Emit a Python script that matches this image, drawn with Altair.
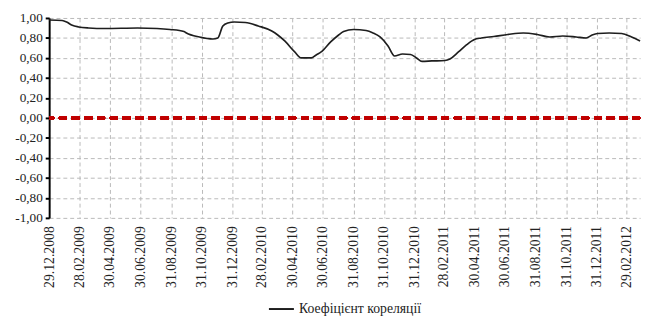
import altair as alt
import pandas as pd

dates = [
    "2008-12-29", "2009-01-24", "2009-02-02", "2009-02-12", "2009-02-26", "2009-03-18",
    "2009-04-20", "2009-06-24", "2009-08-02", "2009-08-28", "2009-09-25", "2009-09-30",
    "2009-10-26", "2009-11-22", "2009-12-02", "2009-12-12", "2009-12-22", "2010-01-04",
    "2010-01-26", "2010-02-21", "2010-03-20", "2010-04-01", "2010-04-15", "2010-05-05",
    "2010-05-18", "2010-06-07", "2010-06-17", "2010-06-27", "2010-07-16", "2010-08-01",
    "2010-08-11", "2010-08-31", "2010-09-25", "2010-10-09", "2010-10-23", "2010-11-08",
    "2010-11-21", "2010-12-07", "2010-12-23", "2011-01-04", "2011-01-15", "2011-02-04",
    "2011-03-02", "2011-03-12", "2011-03-29", "2011-04-14", "2011-04-30", "2011-05-14",
    "2011-06-08", "2011-07-06", "2011-08-06", "2011-09-03", "2011-09-28", "2011-10-24",
    "2011-11-20", "2011-12-10", "2011-12-22", "2012-01-02", "2012-01-25", "2012-02-19",
    "2012-03-10", "2012-03-27",
]
values = [
    0.98, 0.975, 0.96, 0.93, 0.91, 0.90,
    0.895, 0.90, 0.895, 0.885, 0.865, 0.85,
    0.81, 0.79, 0.80, 0.92, 0.95, 0.96,
    0.955, 0.92, 0.87, 0.83, 0.77, 0.66,
    0.60, 0.60, 0.63, 0.66, 0.76, 0.83,
    0.865, 0.885, 0.875, 0.85, 0.81, 0.72,
    0.62, 0.64, 0.635, 0.60, 0.565, 0.57,
    0.575, 0.59, 0.66, 0.73, 0.785, 0.80,
    0.815, 0.835, 0.85, 0.835, 0.81, 0.82,
    0.81, 0.80, 0.83, 0.845, 0.85, 0.845,
    0.81, 0.77,
]
series_name = "Коефіцієнт кореляції"
tick_dates = [
    (2008, 12, 29), (2009, 2, 28), (2009, 4, 30), (2009, 6, 30), (2009, 8, 31),
    (2009, 10, 31), (2009, 12, 31), (2010, 2, 28), (2010, 4, 30), (2010, 6, 30),
    (2010, 8, 31), (2010, 10, 31), (2010, 12, 31), (2011, 2, 28), (2011, 4, 30),
    (2011, 6, 30), (2011, 8, 31), (2011, 10, 31), (2011, 12, 31), (2012, 2, 29),
]
y_ticks = [-1.0, -0.8, -0.6, -0.4, -0.2, 0.0, 0.2, 0.4, 0.6, 0.8, 1.0]

df = pd.DataFrame({"date": dates, "value": values, "series": series_name})

FONT = "Times New Roman, Liberation Serif, DejaVu Serif, serif"
x_vals = [alt.DateTime(year=y, month=m, date=d, utc=True) for y, m, d in tick_dates]

x_axis = alt.Axis(
    values=x_vals,
    labelExpr="utcFormat(datum.value, '%d.%m.%Y')",
    labelAngle=-90,
    labelFontSize=14,
    labelPadding=8,
    domain=False,
    ticks=False,
    title=None,
    labelOverlap=False,
)
y_axis = alt.Axis(
    values=y_ticks,
    labelExpr="(datum.value < -0.001 ? '-' : '') + replace(format(abs(datum.value), '.2f'), '.', ',')",
    labelFontSize=13.5,
    labelPadding=3,
    labelOverlap=False,
    domain=True,
    domainColor="#000000",
    domainWidth=2,
    ticks=True,
    tickColor="#000000",
    tickSize=4,
    tickWidth=2,
    title=None,
)
x_scale = alt.Scale(
    type="utc",
    domain=[alt.DateTime(year=2008, month=12, date=29, utc=True),
            alt.DateTime(year=2012, month=3, date=27, utc=True)],
)
y_scale = alt.Scale(domain=[-1, 1], nice=False)

line = alt.Chart(df).mark_line(strokeWidth=1.7, interpolate="monotone").encode(
    x=alt.X("date:T", scale=x_scale, axis=x_axis),
    y=alt.Y("value:Q", scale=y_scale, axis=y_axis),
    color=alt.Color(
        "series:N",
        scale=alt.Scale(range=["#1e1e1e"]),
        legend=alt.Legend(
            title=None,
            orient="none",
            legendX=223,
            legendY=283,
            symbolType="stroke",
            symbolSize=650,
            symbolStrokeWidth=2,
            labelFontSize=14,
            labelLimit=300,
            padding=0,
        ),
    ),
)

zero = alt.Chart(df).mark_rule(color="#c00000", strokeDash=[8, 5], strokeWidth=2.5).encode(
    y=alt.datum(0, scale=y_scale, axis=y_axis)
)

chart = (
    alt.layer(line, zero)
    .properties(
        width=603,
        height=204,
        padding={"left": 6, "top": 0, "right": 0, "bottom": 0},
        background="white",
    )
    .configure(font=FONT)
    .configure_axis(
        labelFont=FONT,
        labelColor="#222222",
        grid=True,
        gridColor="#b8b8b8",
        gridDash=[4, 3],
        gridWidth=1,
        labelOverlap=False,
    )
    .configure_legend(labelFont=FONT, labelColor="#222222")
    .configure_view(stroke=None)
)

chart.save("out.html", embed_options={"renderer": "svg", "actions": False})
